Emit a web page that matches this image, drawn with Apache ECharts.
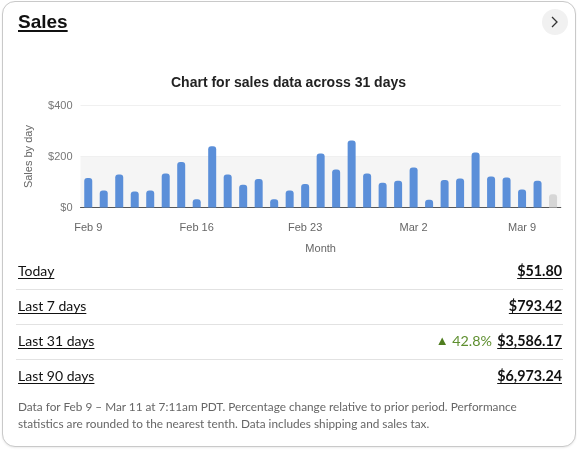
<!DOCTYPE html>
<html>
<head>
<meta charset="utf-8">
<script src="https://cdn.jsdelivr.net/npm/echarts@6/dist/echarts.min.js"></script>
<style>
  html, body { margin:0; padding:0; width:577px; height:456px; background:#fff; overflow:hidden; }
  #card { position:absolute; left:2px; top:1px; width:574px; height:446px; box-sizing:border-box;
          border:1px solid #c9c9c9; border-radius:13px; background:#fff; box-shadow:0 1px 2px rgba(0,0,0,0.08); }
  #chart { position:absolute; left:0; top:0; width:577px; height:456px; }
  .abs { position:absolute; }
  #head { left:18px; top:11px; font-family:"Liberation Sans", Arial, sans-serif; font-weight:bold; font-size:19px;
          color:#111; text-decoration:underline; text-underline-offset:2px; text-decoration-thickness:2px; }
  #btn { left:542px; top:9px; width:26px; height:26px; border-radius:50%; background:#f1f1f1; }
  #btn svg { position:absolute; left:0; top:0; }
  .row { position:absolute; left:17px; width:545px; height:20px; font-family:"Lato", sans-serif; font-size:14px; color:#111; }
  .row .lbl { position:absolute; left:1px; top:0; text-decoration:underline; text-underline-offset:2px; }
  .row .val { position:absolute; right:0; top:0; font-size:14.3px; font-weight:bold; text-decoration:underline; text-underline-offset:2px; }
  .row .chg { position:absolute; right:70px; top:0; color:#5e8f2f; font-size:14.3px; }
  .sep { position:absolute; left:16px; width:547px; height:1px; background:#e2e2e2; }
  #note { left:18px; top:398px; width:545px; font-family:"Lato", sans-serif; font-size:11.8px; line-height:17px; color:#666; }
</style>
</head>
<body>
<div id="card"></div>
<div id="chart"></div>
<div id="head" class="abs">Sales</div>
<div id="btn" class="abs"><svg width="26" height="26"><polyline points="10,8 15,13 10,18" fill="none" stroke="#333" stroke-width="1.3"/></svg></div>

<div class="row" style="top:262px"><span class="lbl">Today</span><span class="val" id="v0"></span></div>
<div class="sep" style="top:289px"></div>
<div class="row" style="top:297px"><span class="lbl">Last 7 days</span><span class="val" id="v1"></span></div>
<div class="sep" style="top:324px"></div>
<div class="row" style="top:332px"><span class="lbl">Last 31 days</span><span class="chg" id="chg"></span><span class="val" id="v2"></span></div>
<div class="sep" style="top:359px"></div>
<div class="row" style="top:367px"><span class="lbl">Last 90 days</span><span class="val" id="v3"></span></div>
<div id="note" class="abs">Data for Feb 9 – Mar 11 at 7:11am PDT. Percentage change relative to prior period. Performance statistics are rounded to the nearest tenth. Data includes shipping and sales tax.</div>

<script>
// ---- data ----
const days = ['Feb 9','Feb 10','Feb 11','Feb 12','Feb 13','Feb 14','Feb 15','Feb 16','Feb 17','Feb 18',
  'Feb 19','Feb 20','Feb 21','Feb 22','Feb 23','Feb 24','Feb 25','Feb 26','Feb 27','Feb 28',
  'Mar 1','Mar 2','Mar 3','Mar 4','Mar 5','Mar 6','Mar 7','Mar 8','Mar 9','Mar 10','Mar 11'];
const sales = [116,67,130,63,67,134,179,32,241,130,89,112,32,67,92,212,149,263,134,97,
  105,157,30,108,114,216,122,118,71,105,51.8];
const yTicks = [0,200,400];
const periodLabels = ['Today','Last 7 days','Last 31 days','Last 90 days'];
const periodValues = ['$51.80','$793.42','$3,586.17','$6,973.24'];
const change31 = '42.8%';

// ---- table ----
periodValues.forEach((v,i)=>{ document.getElementById('v'+i).textContent = v; });
document.getElementById('chg').innerHTML = '<span style="font-size:13px;color:#4f7d1f;position:relative;top:-1px">&#9650;</span> ' + change31;

// ---- chart ----
const chart = echarts.init(document.getElementById('chart'), null, {renderer:'canvas'});
const lastIdx = sales.length - 1;
chart.setOption({
  animation:false,
  title:{ text:'Chart for sales data across 31 days', left:'center', top:71,
    textStyle:{ fontFamily:'Liberation Sans, Arial, sans-serif', fontSize:14, fontWeight:'bold', color:'#222' } },
  grid:{ left:80.5, right:16.2, top:105.7, bottom:248.5, containLabel:false },
  xAxis:{ type:'category', data:days, name:'Month', nameLocation:'middle', nameGap:36,
    nameTextStyle:{ fontFamily:'Liberation Sans, Arial, sans-serif', fontSize:11, color:'#666' },
    axisLine:{ lineStyle:{ color:'#555', width:1 } }, axisTick:{ show:false },
    axisLabel:{ interval:6, margin:15, fontFamily:'Liberation Sans, Arial, sans-serif', fontSize:11, color:'#666' } },
  yAxis:{ type:'value', min:yTicks[0], max:yTicks[yTicks.length-1], interval:yTicks[1]-yTicks[0],
    name:'Sales by day', nameLocation:'middle', nameGap:46, nameRotate:90,
    nameTextStyle:{ fontFamily:'Liberation Sans, Arial, sans-serif', fontSize:11, color:'#666' },
    axisLine:{ show:false }, axisTick:{ show:false },
    axisLabel:{ margin:8, padding:[0,0,8,0], formatter:v=>'$'+v, fontFamily:'Liberation Sans, Arial, sans-serif', fontSize:11, color:'#777' },
    splitLine:{ lineStyle:{ color:'#f0f0f0' } },
    splitArea:{ show:true, areaStyle:{ color:['#f5f5f5','#ffffff'] } } },
  series:[{ type:'bar', barWidth:8,
    data: sales.map((v,i)=>({ value:v, itemStyle:{ color: i===lastIdx ? '#d6d6d6' : '#5b8fd9', borderRadius:[3,3,0,0] } })) }]
});
</script>
</body>
</html>
